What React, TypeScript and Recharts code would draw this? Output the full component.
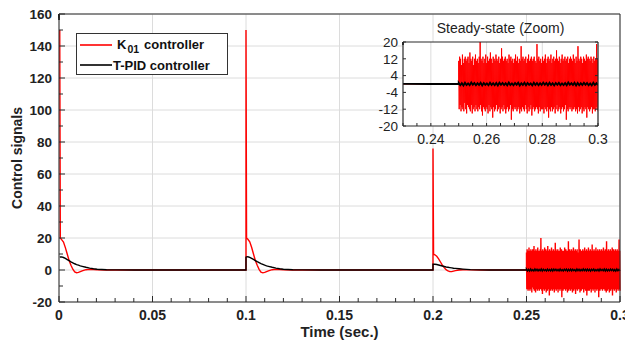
import React from 'react';
import { LineChart, Line, XAxis, YAxis, CartesianGrid } from 'recharts';

// ---- data ----
const tOffsets = [0, 0.0003, 0.001, 0.002, 0.003, 0.004, 0.005, 0.006, 0.007, 0.008, 0.009, 0.010, 0.011, 0.012, 0.014, 0.016, 0.018, 0.020, 0.025, 0.030, 0.040];
const eventStarts = [0.0004, 0.1, 0.2];
const k01Event1 = [150, 20, 19, 17.5, 14, 10, 6, 3, 0.5, -1.2, -1.7, -1.5, -1, -0.5, 0.2, 0.4, 0.3, 0.1, 0, 0, 0];
const k01Event2 = [150, 20, 19.2, 17.6, 14.2, 10, 6, 3, 0.4, -1.3, -1.8, -1.5, -1, -0.5, 0.2, 0.4, 0.3, 0.1, 0, 0, 0];
const k01Event3 = [76, 10, 9.5, 8.6, 7, 5, 3, 1.5, 0.2, -0.6, -1, -1, -0.7, -0.4, 0, 0.2, 0.15, 0.05, 0, 0, 0];
const tpidEvent1 = [8, 8.1, 8.2, 7.8, 7.2, 6.5, 5.8, 5.1, 4.5, 3.9, 3.4, 3.0, 2.6, 2.3, 1.7, 1.2, 0.8, 0.5, 0.2, 0.05, 0];
const tpidEvent2 = [8, 8.2, 8.3, 7.9, 7.3, 6.6, 5.9, 5.2, 4.6, 4.0, 3.5, 3.0, 2.6, 2.3, 1.7, 1.2, 0.8, 0.5, 0.2, 0.05, 0];
const tpidEvent3 = [3.6, 3.6, 3.6, 3.4, 3.1, 2.8, 2.5, 2.2, 1.9, 1.7, 1.5, 1.3, 1.1, 1.0, 0.75, 0.55, 0.4, 0.25, 0.1, 0.03, 0];
const noiseStart = 0.25;
const noiseEnd = 0.3;
const k01Noise = [
  11, -12, 13, -10, 12, -13, 9, -11, 14, -12, 10, -13, 12, -9, 13, -12, 11, -14, 12, -10,
  13, -11, 10, -12, 15, -13, 12, -10, 11, -14, 13, -12, 9, -11, 12, -13, 14, -10, 11, -12,
  12, -13, 10, -11, 13, -12, 20, -10, 12, -13, 11, -15, 13, -11, 10, -12, 12, -13, 14, -11,
  10, -12, 13, -14, 11, -10, 12, -13, 15, -11, 12, -12, 10, -16, 13, -11, 12, -13, 11, -12,
  14, -10, 12, -13, 11, -12, 13, -11, 10, -14, 12, -12, 17, -11, 13, -13, 11, -10, 12, -12,
  13, -14, 11, -12, 12, -11, 10, -13, 14, -12, 12, -10, 13, -17, 11, -12, 12, -13, 10, -11,
  12, -12, 14, -11, 11, -13, 13, -12, 10, -11, 12, -14, 11, -12, 18, -13, 12, -11, 13, -12,
  11, -13, 12, -10, 13, -12, 10, -14, 12, -11, 14, -13, 11, -12, 12, -10, 13, -15, 11, -12,
  12, -11, 13, -13, 11, -12, 10, -11, 19, -12, 12, -14, 13, -11, 11, -13, 12, -12, 10, -12,
  13, -12, 11, -14, 12, -11, 14, -12, 10, -13, 12, -11, 13, -16, 11, -12, 12, -13, 14, -11,
  10, -13, 12, -12, 13, -11, 11, -14, 12, -12, 16, -10, 12, -13, 11, -12, 13, -11, 10, -14,
  12, -12, 14, -11, 11, -13, 12, -12, 13, -10, 11, -17, 12, -12, 13, -13, 10, -11, 12, -12,
  13, -11, 12, -13, 11, -12, 14, -12, 12, -11, 10, -13, 13, -12, 11, -14, 18, -11, 12, -13,
  11, -12, 13, -11, 12, -14, 10, -12, 13, -13, 12, -11, 11, -12, 14, -16, 12, -11, 13, -12,
  12, -13, 11, -12, 13, -11, 12, -14, 10, -12, 13, -12, 11, -13, 12, -11, 19, -12, 12, -13,
];
const tpidNoise = [
  0.5, -0.6, 0.4, -0.7, 0.6, -0.5, 0.3, -0.6, 0.7, -0.4, 0.5, -0.6, 0.4, -0.5, 0.6, -0.7, 0.5, -0.4, 0.3, -0.6,
  0.6, -0.5, 0.4, -0.6, 0.5, -0.7, 0.6, -0.4, 0.5, -0.5, 0.4, -0.6, 0.7, -0.5, 0.3, -0.6, 0.5, -0.4, 0.6, -0.7,
  0.4, -0.5, 0.6, -0.6, 0.5, -0.4, 0.3, -0.7, 0.6, -0.5, 0.5, -0.6, 0.4, -0.5, 0.7, -0.4, 0.5, -0.6, 0.6, -0.5,
  0.4, -0.7, 0.5, -0.4, 0.6, -0.6, 0.3, -0.5, 0.5, -0.6, 0.7, -0.4, 0.4, -0.5, 0.6, -0.7, 0.5, -0.6, 0.4, -0.5,
  0.6, -0.4, 0.5, -0.6, 0.3, -0.7, 0.6, -0.5, 0.4, -0.6,
];

const xTicks = [0, 0.01, 0.02, 0.03, 0.04, 0.05, 0.06, 0.07, 0.08, 0.09, 0.1, 0.11, 0.12, 0.13, 0.14, 0.15, 0.16, 0.17, 0.18, 0.19, 0.2, 0.21, 0.22, 0.23, 0.24, 0.25, 0.26, 0.27, 0.28, 0.29, 0.3];
const xMajor = [0, 0.05, 0.1, 0.15, 0.2, 0.25, 0.3];
const yTicks = [-20, -10, 0, 10, 20, 30, 40, 50, 60, 70, 80, 90, 100, 110, 120, 130, 140, 150, 160];
const yMajor = [-20, 0, 20, 40, 60, 80, 100, 120, 140, 160];
const insetXTicks = [0.23, 0.235, 0.24, 0.245, 0.25, 0.255, 0.26, 0.265, 0.27, 0.275, 0.28, 0.285, 0.29, 0.295, 0.3];
const insetXMajor = [0.24, 0.26, 0.28, 0.3];
const insetYTicks = [-20, -12, -4, 4, 12, 20];
const seriesNames = ['K', '01', 'controller', 'T-PID controller'];

// ---- build series ----
function buildSeries(events: number[][], noise: number[]) {
  const rows: { t: number; v: number }[] = [];
  eventStarts.forEach((t0, e) => {
    if (e > 0) rows.push({ t: t0, v: 0 });
    tOffsets.forEach((dt, i) => rows.push({ t: t0 + dt, v: events[e][i] }));
  });
  rows.push({ t: noiseStart, v: 0 });
  noise.forEach((v, i) => rows.push({ t: noiseStart + (i * (noiseEnd - noiseStart)) / (noise.length - 1), v }));
  return rows;
}
const k01Data = buildSeries([k01Event1, k01Event2, k01Event3], k01Noise);
const tpidData = buildSeries([tpidEvent1, tpidEvent2, tpidEvent3], tpidNoise);

const FONT = 'Liberation Sans, Arial, sans-serif';
const AX = '#2a2a2a';
const isIn = (v: number, list: number[]) => list.some((m) => Math.abs(m - v) < 1e-9);

// ---- tick renderers ----
const BottomTick = (p: any) => {
  const major = isIn(p.payload.value, xMajor);
  return (
    <g>
      <line x1={p.x} x2={p.x} y1={p.y} y2={p.y - (major ? 6 : 4)} stroke={AX} strokeWidth={1} />
      {major && (
        <text x={p.x} y={p.y + 18} textAnchor="middle" fontSize={14} fontWeight="bold" fill="#222" fontFamily={FONT}>
          {String(p.payload.value)}
        </text>
      )}
    </g>
  );
};
const TopTick = (p: any) => {
  const major = isIn(p.payload.value, xMajor);
  return <line x1={p.x} x2={p.x} y1={p.y} y2={p.y + (major ? 6 : 4)} stroke={AX} strokeWidth={1} />;
};
const LeftTick = (p: any) => {
  const major = isIn(p.payload.value, yMajor);
  return (
    <g>
      <line x1={p.x} x2={p.x + (major ? 6 : 4)} y1={p.y} y2={p.y} stroke={AX} strokeWidth={1} />
      {major && (
        <text x={p.x - 7} y={p.y} dy="0.36em" textAnchor="end" fontSize={13.5} fontWeight="bold" fill="#222" fontFamily={FONT}>
          {String(p.payload.value)}
        </text>
      )}
    </g>
  );
};
const RightTick = (p: any) => {
  const major = isIn(p.payload.value, yMajor);
  return <line x1={p.x} x2={p.x - (major ? 6 : 4)} y1={p.y} y2={p.y} stroke={AX} strokeWidth={1} />;
};

const InsetBottomTick = (p: any) => {
  const major = isIn(p.payload.value, insetXMajor);
  return (
    <g>
      <line x1={p.x} x2={p.x} y1={p.y} y2={p.y - 3} stroke={AX} strokeWidth={1} />
      {major && (
        <text x={p.x} y={p.y + 18} textAnchor="middle" fontSize={14} fill="#222" fontFamily={FONT}>
          {String(p.payload.value)}
        </text>
      )}
    </g>
  );
};
const InsetTopTick = (p: any) => <line x1={p.x} x2={p.x} y1={p.y} y2={p.y + 3} stroke={AX} strokeWidth={1} />;
const InsetLeftTick = (p: any) => (
  <g>
    <line x1={p.x} x2={p.x + 3} y1={p.y} y2={p.y} stroke={AX} strokeWidth={1} />
    <text x={p.x - 5} y={p.y} dy="0.36em" textAnchor="end" fontSize={13.5} fill="#222" fontFamily={FONT}>
      {String(p.payload.value)}
    </text>
  </g>
);
const InsetRightTick = (p: any) => <line x1={p.x} x2={p.x - 3} y1={p.y} y2={p.y} stroke={AX} strokeWidth={1} />;

const LegendBox = () => (
  <svg width={152} height={42} style={{ display: 'block' }}>
    <rect x={0.5} y={0.5} width={151} height={41} fill="#fff" stroke="#333" strokeWidth={1} />
    <line x1={4} x2={36} y1={12} y2={12} stroke="#ff0000" strokeWidth={1.6} />
    <text x={41} y={16} fontSize={13} fontWeight="bold" fontFamily={FONT} fill="#111">
      {seriesNames[0]}
      <tspan fontSize={10.5} dy={4} dx={1}>{seriesNames[1]}</tspan>
      <tspan fontSize={13} dy={-4} dx={5}>{seriesNames[2]}</tspan>
    </text>
    <line x1={4} x2={36} y1={32} y2={32} stroke="#000" strokeWidth={1.6} />
    <text x={37} y={36.5} fontSize={13} fontWeight="bold" fontFamily={FONT} fill="#111">
      {seriesNames[3]}
    </text>
  </svg>
);

export default function App() {
  return (
    <div style={{ position: 'absolute', left: 0, top: 0, width: 625, height: 342, background: '#fff', overflow: 'hidden' }}>
      <LineChart width={625} height={342} data={k01Data} margin={{ top: 13, right: 4, bottom: 0, left: 0 }}>
        <CartesianGrid
          stroke="#dcdcdc"
          strokeWidth={1}
          verticalValues={xMajor}
          horizontalValues={yMajor}
          xAxisId="main"
          yAxisId="main"
        />
        <XAxis
          xAxisId="main"
          dataKey="t"
          type="number"
          domain={[0, 0.3]}
          ticks={xTicks}
          interval={0}
          tickSize={0}
          tickMargin={0}
          tickLine={false}
          tick={<BottomTick />}
          height={40}
          axisLine={{ stroke: AX, strokeWidth: 1 }}
          label={{
            content: (props: any) => {
              const vb = props.viewBox;
              return (
                <text x={vb.x + vb.width / 2} y={vb.y + 35} textAnchor="middle" fontSize={15} fontWeight="bold" fill="#222" fontFamily={FONT}>
                  Time (sec.)
                </text>
              );
            },
          }}
        />
        <XAxis
          xAxisId="top"
          orientation="top"
          type="number"
          domain={[0, 0.3]}
          ticks={xTicks}
          interval={0}
          tickSize={0}
          tickMargin={0}
          tickLine={false}
          tick={<TopTick />}
          height={1}
          axisLine={{ stroke: AX, strokeWidth: 1 }}
        />
        <YAxis
          yAxisId="main"
          type="number"
          domain={[-20, 160]}
          ticks={yTicks}
          interval={0}
          tickSize={0}
          tickMargin={0}
          tickLine={false}
          tick={<LeftTick />}
          width={59}
          axisLine={{ stroke: AX, strokeWidth: 1 }}
          label={{
            content: () => (
              <text x={22} y={158} transform="rotate(-90 22 158)" textAnchor="middle" fontSize={14} fontWeight="bold" fill="#222" fontFamily={FONT}>
                Control signals
              </text>
            ),
          }}
        />
        <YAxis
          yAxisId="right"
          orientation="right"
          type="number"
          domain={[-20, 160]}
          ticks={yTicks}
          interval={0}
          tickSize={0}
          tickMargin={0}
          tickLine={false}
          tick={<RightTick />}
          width={1}
          axisLine={{ stroke: AX, strokeWidth: 1 }}
        />
        <Line xAxisId="main" yAxisId="main" data={k01Data} dataKey="v" type="linear" stroke="#ff0000" strokeWidth={1.4} dot={false} isAnimationActive={false} name="K01 controller" />
        <Line xAxisId="main" yAxisId="main" data={tpidData} dataKey="v" type="linear" stroke="#000000" strokeWidth={1.4} dot={false} isAnimationActive={false} name="T-PID controller" />
      </LineChart>

      <div style={{ position: 'absolute', left: 76, top: 33 }}>
        <LegendBox />
      </div>

      <div style={{ position: 'absolute', left: 370, top: 18, width: 245, height: 130 }}>
        <LineChart width={245} height={130} data={k01Data} margin={{ top: 23, right: 16, bottom: 0, left: 0 }}>
          <CartesianGrid
            fill="#ffffff"
            stroke="#dcdcdc"
            horizontal={false}
            verticalValues={insetXMajor}
            xAxisId="ib"
            yAxisId="il"
          />
          <XAxis
            xAxisId="ib"
            dataKey="t"
            type="number"
            domain={[0.23, 0.3]}
            allowDataOverflow
            ticks={insetXTicks}
            interval={0}
            tickSize={0}
            tickMargin={0}
            tickLine={false}
            tick={<InsetBottomTick />}
            height={22}
            axisLine={{ stroke: AX, strokeWidth: 1.2 }}
          />
          <XAxis
            xAxisId="it"
            orientation="top"
            type="number"
            domain={[0.23, 0.3]}
            allowDataOverflow
            ticks={insetXTicks}
            interval={0}
            tickSize={0}
            tickMargin={0}
            tickLine={false}
            tick={<InsetTopTick />}
            height={1}
            axisLine={{ stroke: AX, strokeWidth: 1.2 }}
            label={{
              content: (props: any) => {
                const vb = props.viewBox;
                return (
                  <text x={vb.x + vb.width / 2} y={15} textAnchor="middle" fontSize={14} fill="#222" fontFamily={FONT}>
                    Steady-state (Zoom)
                  </text>
                );
              },
            }}
          />
          <YAxis
            yAxisId="il"
            type="number"
            domain={[-20, 20]}
            allowDataOverflow
            ticks={insetYTicks}
            interval={0}
            tickSize={0}
            tickMargin={0}
            tickLine={false}
            tick={<InsetLeftTick />}
            width={33}
            axisLine={{ stroke: AX, strokeWidth: 1.2 }}
          />
          <YAxis
            yAxisId="ir"
            orientation="right"
            type="number"
            domain={[-20, 20]}
            allowDataOverflow
            ticks={insetYTicks}
            interval={0}
            tickSize={0}
            tickMargin={0}
            tickLine={false}
            tick={<InsetRightTick />}
            width={1}
            axisLine={{ stroke: AX, strokeWidth: 1.2 }}
          />
          <Line xAxisId="ib" yAxisId="il" data={k01Data} dataKey="v" type="linear" stroke="#ff0000" strokeWidth={1} dot={false} isAnimationActive={false} />
          <Line xAxisId="ib" yAxisId="il" data={tpidData} dataKey="v" type="linear" stroke="#000000" strokeWidth={1.8} dot={false} isAnimationActive={false} />
        </LineChart>
      </div>
    </div>
  );
}
